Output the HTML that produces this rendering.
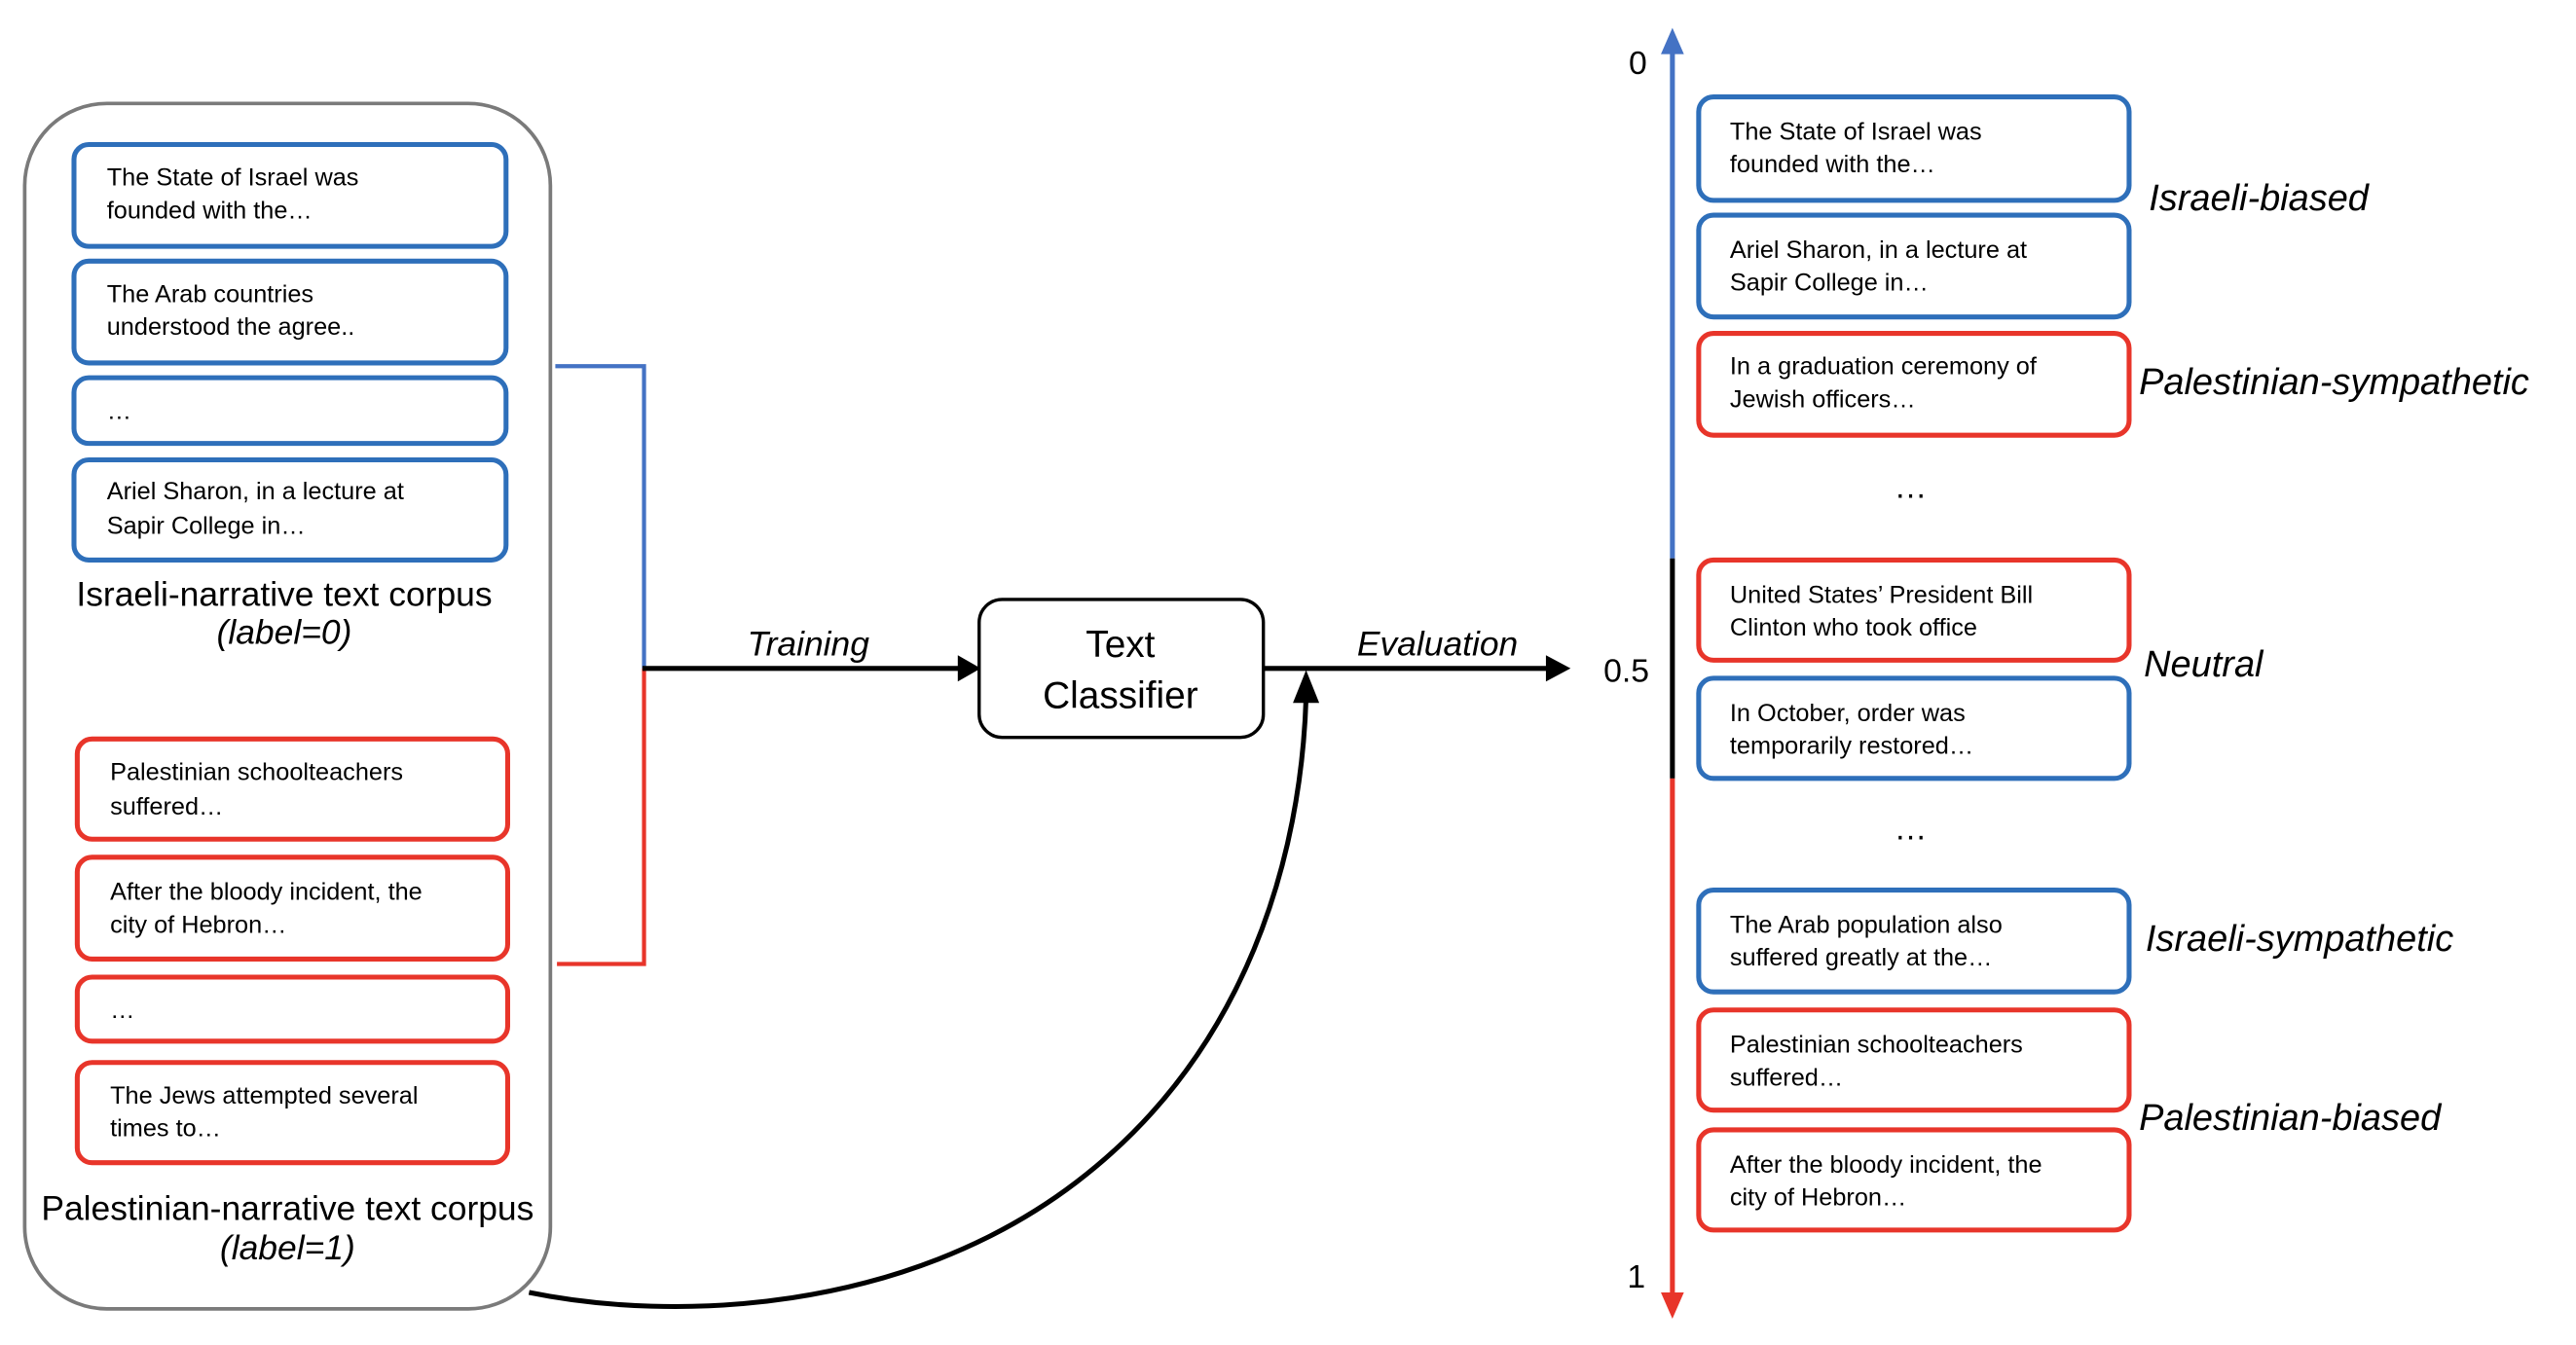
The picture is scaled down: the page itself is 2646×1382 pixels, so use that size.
<!DOCTYPE html>
<html><head><meta charset="utf-8">
<style>
html,body{margin:0;padding:0;background:#fff;}
svg{display:block;}
text{font-family:"Liberation Sans",Arial,sans-serif;fill:#000;}
.bt{font-size:15px;}
.it{font-style:italic;}
</style></head>
<body>
<svg width="2646" height="1382" viewBox="0 0 1568 819" xmlns="http://www.w3.org/2000/svg">

<rect x="15" y="63" width="320" height="734" rx="50" fill="none" stroke="#7a7a7a" stroke-width="2.2"/>

<g fill="none" stroke="#2e6fba" stroke-width="3">
<rect x="45" y="88" width="263" height="62" rx="9"/>
<rect x="45" y="159" width="263" height="62" rx="9"/>
<rect x="45" y="230" width="263" height="40" rx="9"/>
<rect x="45" y="280" width="263" height="61" rx="9"/>
</g>
<text class="bt" x="65" y="113">The State of Israel was</text>
<text class="bt" x="65" y="133">founded with the…</text>
<text class="bt" x="65" y="184">The Arab countries</text>
<text class="bt" x="65" y="204">understood the agree..</text>
<text class="bt" x="65" y="255">…</text>
<text class="bt" x="65" y="304">Ariel Sharon, in a lecture at</text>
<text class="bt" x="65" y="325">Sapir College in…</text>
<text x="173" y="369" font-size="21" text-anchor="middle">Israeli-narrative text corpus</text>
<text x="173" y="392" font-size="21" class="it" text-anchor="middle">(label=0)</text>

<g fill="none" stroke="#e8352a" stroke-width="3">
<rect x="47" y="450" width="262" height="61" rx="9"/>
<rect x="47" y="522" width="262" height="62" rx="9"/>
<rect x="47" y="595" width="262" height="39" rx="9"/>
<rect x="47" y="647" width="262" height="61" rx="9"/>
</g>
<text class="bt" x="67" y="475">Palestinian schoolteachers</text>
<text class="bt" x="67" y="496">suffered…</text>
<text class="bt" x="67" y="548">After the bloody incident, the</text>
<text class="bt" x="67" y="568">city of Hebron…</text>
<text class="bt" x="67" y="620">…</text>
<text class="bt" x="67" y="672">The Jews attempted several</text>
<text class="bt" x="67" y="692">times to…</text>
<text x="175" y="743" font-size="21" text-anchor="middle">Palestinian-narrative text corpus</text>
<text x="175" y="767" font-size="21" class="it" text-anchor="middle">(label=1)</text>

<polyline points="338,223 392,223 392,407" fill="none" stroke="#4472c4" stroke-width="2.5"/>
<polyline points="339,587 392,587 392,407" fill="none" stroke="#e8352a" stroke-width="2.5"/>
<line x1="391" y1="407" x2="585" y2="407" stroke="#000" stroke-width="3"/>
<path d="M597,407 L583,399 L583,415 z" fill="#000"/>
<text x="492" y="399" font-size="21" class="it" text-anchor="middle">Training</text>

<rect x="596" y="365" width="173" height="84" rx="14" fill="#fff" stroke="#000" stroke-width="2"/>
<text x="682" y="400" font-size="23" text-anchor="middle">Text</text>
<text x="682" y="431" font-size="23" text-anchor="middle">Classifier</text>

<line x1="769" y1="407" x2="943" y2="407" stroke="#000" stroke-width="3"/>
<path d="M956,407 L941,399 L941,415 z" fill="#000"/>
<text x="875" y="399" font-size="21" class="it" text-anchor="middle">Evaluation</text>

<path d="M322,787 C 410,805 550,800 655,720 C 760,640 792,520 795,425" fill="none" stroke="#000" stroke-width="3"/>
<path d="M795,408 L787,428 L803,428 z" fill="#000"/>

<line x1="1018" y1="30" x2="1018" y2="340" stroke="#4472c4" stroke-width="3"/>
<path d="M1018,17 L1011,33 L1025,33 z" fill="#4472c4"/>
<line x1="1018" y1="340" x2="1018" y2="474" stroke="#000" stroke-width="3"/>
<line x1="1018" y1="474" x2="1018" y2="790" stroke="#e8352a" stroke-width="3"/>
<path d="M1018,803 L1011,787 L1025,787 z" fill="#e8352a"/>
<text x="997" y="45" font-size="20" text-anchor="middle">0</text>
<text x="990" y="415" font-size="20" text-anchor="middle">0.5</text>
<text x="996" y="784" font-size="20" text-anchor="middle">1</text>

<g fill="none" stroke-width="3">
<rect x="1034" y="59" width="262" height="63" rx="9" stroke="#2e6fba"/>
<rect x="1034" y="131" width="262" height="62" rx="9" stroke="#2e6fba"/>
<rect x="1034" y="203" width="262" height="62" rx="9" stroke="#e8352a"/>
<rect x="1034" y="341" width="262" height="61" rx="9" stroke="#e8352a"/>
<rect x="1034" y="413" width="262" height="61" rx="9" stroke="#2e6fba"/>
<rect x="1034" y="542" width="262" height="62" rx="9" stroke="#2e6fba"/>
<rect x="1034" y="615" width="262" height="61" rx="9" stroke="#e8352a"/>
<rect x="1034" y="688" width="262" height="61" rx="9" stroke="#e8352a"/>
</g>
<text class="bt" x="1053" y="85">The State of Israel was</text>
<text class="bt" x="1053" y="105">founded with the…</text>
<text class="bt" x="1053" y="157">Ariel Sharon, in a lecture at</text>
<text class="bt" x="1053" y="177">Sapir College in…</text>
<text class="bt" x="1053" y="228">In a graduation ceremony of</text>
<text class="bt" x="1053" y="248">Jewish officers…</text>
<text x="1163" y="303" font-size="20" text-anchor="middle">…</text>
<text class="bt" x="1053" y="367">United States’ President Bill</text>
<text class="bt" x="1053" y="387">Clinton who took office</text>
<text class="bt" x="1053" y="439">In October, order was</text>
<text class="bt" x="1053" y="459">temporarily restored…</text>
<text x="1163" y="511" font-size="20" text-anchor="middle">…</text>
<text class="bt" x="1053" y="568">The Arab population also</text>
<text class="bt" x="1053" y="588">suffered greatly at the…</text>
<text class="bt" x="1053" y="641">Palestinian schoolteachers</text>
<text class="bt" x="1053" y="661">suffered…</text>
<text class="bt" x="1053" y="714">After the bloody incident, the</text>
<text class="bt" x="1053" y="734">city of Hebron…</text>

<text x="1308" y="128" font-size="22.5" class="it">Israeli-biased</text>
<text x="1302" y="240" font-size="22.5" class="it">Palestinian-sympathetic</text>
<text x="1305" y="412" font-size="22.5" class="it">Neutral</text>
<text x="1306" y="579" font-size="22.5" class="it">Israeli-sympathetic</text>
<text x="1302" y="688" font-size="22.5" class="it">Palestinian-biased</text>
</svg>
</body></html>
